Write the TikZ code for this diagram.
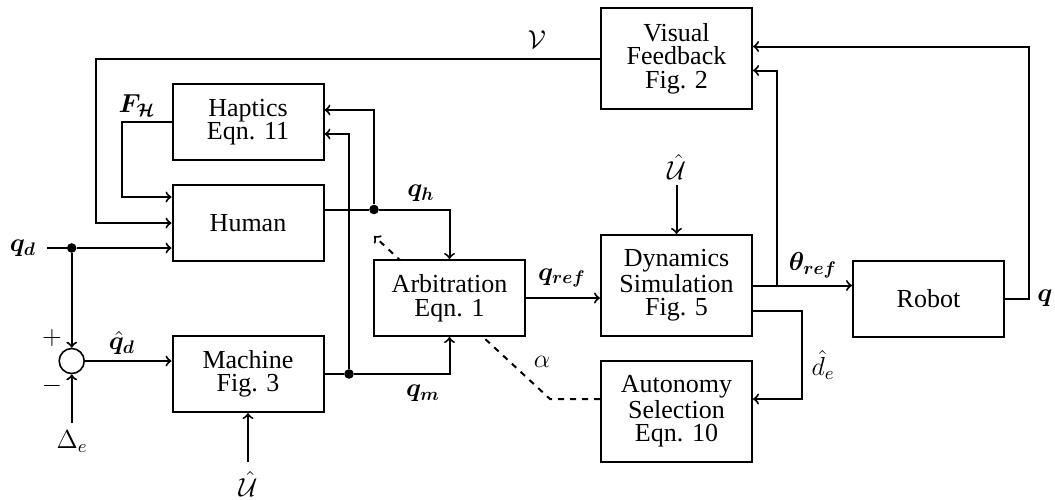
\documentclass[tikz,border=0pt]{standalone}
\usepackage{fix-cm}
\usepackage{amsmath}
\usepackage{bm}
\usepackage{fontspec}
\setmainfont{Liberation Serif}
\usetikzlibrary{backgrounds}
\begin{document}
\begin{tikzpicture}[x=0.5pt,y=-0.5pt,
  every node/.style={font=\fontsize{13}{11.75}\selectfont},
  blk/.style={draw,line width=1pt,fill=white,minimum width=75.5pt,minimum height=38pt,inner sep=0pt,align=center},
  tall/.style={blk,minimum height=50.5pt},
  dot/.style={circle,fill=black,inner sep=0pt,minimum size=4.8pt},
  sumnode/.style={circle,draw,line width=0.8pt,fill=white,inner sep=0pt,minimum size=12.5pt},
  conn/.style={line width=1pt},
  lbl/.style={inner sep=1pt}
]
\useasboundingbox (0,0) rectangle (1055,499);

% blocks
\node[blk] (haptics) at (248,122) {Haptics\\Eqn. 11};
\node[blk] (human) at (248,223) {Human};
\node[blk] (machine) at (248,374) {Machine\\Fig. 3};
\node[blk] (arb) at (449.5,298) {Arbitration\\Eqn. 1};
\node[tall] (dyn) at (676.5,285.5) {Dynamics\\Simulation\\Fig. 5};
\node[tall] (vis) at (676.5,58.5) {Visual\\Feedback\\Fig. 2};
\node[blk] (robot) at (928.5,298.5) {Robot};
\node[tall] (auto) at (676.5,411.5) {Autonomy\\Selection\\Eqn. 10};
\node[sumnode] (sum) at (71.7,361) {};

% junctions and free ends
\node[dot] (jqd) at (71.7,248) {};
\node[dot] (jqh) at (374,209.5) {};
\node[dot] (jqm) at (349,374) {};
\coordinate (qdin) at (47,248);
\coordinate (dein) at (71.7,423);
\coordinate (umin) at (248,462);
\coordinate (udin) at (676.5,185);
\coordinate (vl) at (96,58.5);
\coordinate (fhl) at (122,122);
\coordinate (jth) at (777,285.5);
\coordinate (dec) at (802,311);
\coordinate (qr) at (1029,298.5);
\coordinate (dashc) at (550,399);
\coordinate (dashend) at (374,236);

% connectors
\draw[conn] (qdin) -- (jqd);
\draw[conn,->] (jqd) -- (jqd -| human.west);
\draw[conn,->] (jqd) -- (sum.north);
\draw[conn,->] (dein) -- (sum.south);
\draw[conn,->] (sum.east) -- (sum -| machine.west);
\draw[conn,->] (umin) -- (machine.south);

\draw[conn] (machine.east) -- (jqm);
\draw[conn,->] (jqm) -| (arb.south);
\draw[conn,->] (jqm) |- ([yshift=-6pt]haptics.east);

\draw[conn] (jqh -| human.east) -- (jqh);
\draw[conn,->] (jqh) -| (arb.north);
\draw[conn,->] (jqh) |- ([yshift=6pt]haptics.east);

\draw[conn,->] (haptics.west) -- (fhl) |- ([yshift=13pt]human.west);
\draw[conn,->] (vis.west) -- (vl) |- (human.west);

\draw[conn,->] (arb.east) -- (arb.east -| dyn.west);
\draw[conn,->] (udin) -- (dyn.north);
\draw[conn,->] (dyn.east) -- (dyn.east -| robot.west);
\draw[conn,->] (jth) |- ([yshift=-6pt]vis.east);
\draw[conn,->] ([yshift=-12.75pt]dyn.east) -- (dec) |- ([yshift=6.25pt]auto.east);
\draw[conn,->] (robot.east) -- (qr) |- ([yshift=6pt]vis.east);

\begin{pgfonlayer}{background}
\draw[conn,dashed,->] ([yshift=6.25pt]auto.west) -- (dashc) -- (dashend);
\end{pgfonlayer}

% labels
\node[lbl] (lqd) at (23,248) {$\bm{q_d}$};
\node[lbl] (lplus) at (52,338) {$+$};
\node[lbl] (lminus) at (52,386) {$-$};
\node[lbl] (lde) at (72,442) {$\Delta_e$};
\node[lbl] (lqdh) at (122,343) {$\bm{\hat{q}_d}$};
\node[lbl] (lum) at (248,484) {$\hat{\mathcal{U}}$};
\node[lbl] (lfh) at (137,106) {$\bm{F_{\mathcal{H}}}$};
\node[lbl] (lv) at (537,40) {$\mathcal{V}$};
\node[lbl] (lqh) at (421,193) {$\bm{q_h}$};
\node[lbl] (lqm) at (423,393) {$\bm{q_m}$};
\node[lbl] (lqref) at (562,278) {$\bm{q_{ref}}$};
\node[lbl] (lud) at (676.5,167) {$\hat{\mathcal{U}}$};
\node[lbl] (lth) at (813,265) {$\bm{\theta_{ref}}$};
\node[lbl] (lq) at (1045,298) {$\bm{q}$};
\node[lbl] (lhde) at (823,365) {$\hat{d}_e$};
\node[lbl] (lal) at (542,362) {$\alpha$};
\end{tikzpicture}
\end{document}
